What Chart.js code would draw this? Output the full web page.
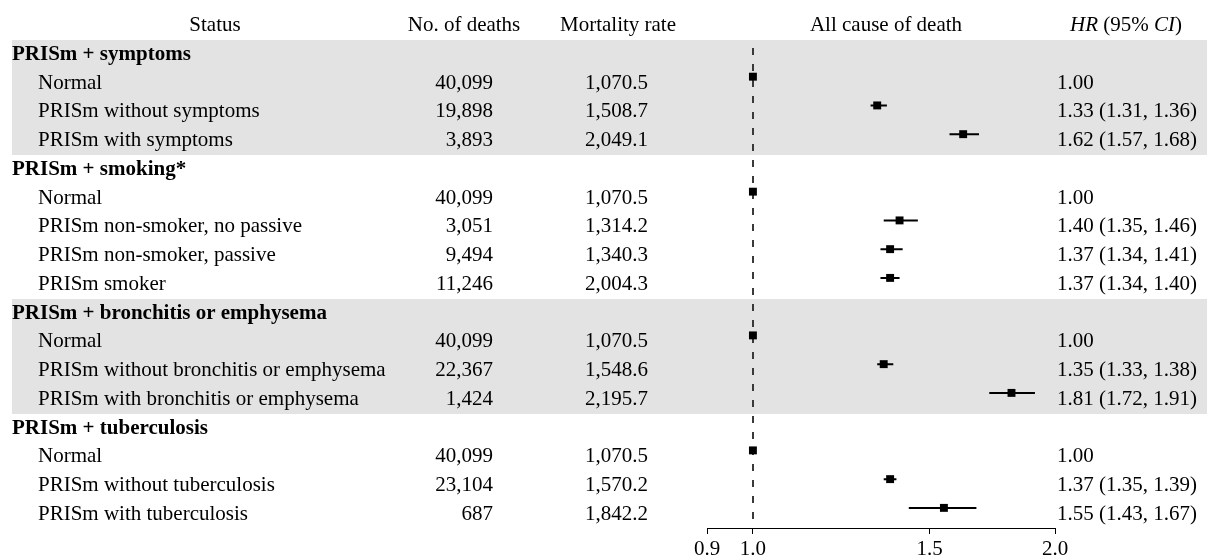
<!DOCTYPE html>
<html>
<head>
<meta charset="utf-8">
<script src="https://cdn.jsdelivr.net/npm/chart.js@4/dist/chart.umd.min.js"></script>
<style>
  html, body { margin: 0; padding: 0; background: #ffffff; }
  canvas { display: block; }
</style>
</head>
<body>
<canvas id="c" width="1207" height="558"></canvas>
<script>
// ---------------- DATA ----------------
const statusLabels = [
  'PRISm + symptoms', 'Normal', 'PRISm without symptoms', 'PRISm with symptoms',
  'PRISm + smoking*', 'Normal', 'PRISm non-smoker, no passive', 'PRISm non-smoker, passive', 'PRISm smoker',
  'PRISm + bronchitis or emphysema', 'Normal', 'PRISm without bronchitis or emphysema', 'PRISm with bronchitis or emphysema',
  'PRISm + tuberculosis', 'Normal', 'PRISm without tuberculosis', 'PRISm with tuberculosis'
];
const isGroupRow = [true,false,false,false, true,false,false,false,false, true,false,false,false, true,false,false,false];
const deaths = [null,40099,19898,3893, null,40099,3051,9494,11246, null,40099,22367,1424, null,40099,23104,687];
const mortalityRates = [null,1070.5,1508.7,2049.1, null,1070.5,1314.2,1340.3,2004.3, null,1070.5,1548.6,2195.7, null,1070.5,1570.2,1842.2];
const hazardRatios = [null,1.00,1.33,1.62, null,1.00,1.40,1.37,1.37, null,1.00,1.35,1.81, null,1.00,1.37,1.55];
const ciLow  = [null,null,1.31,1.57, null,null,1.35,1.34,1.34, null,null,1.33,1.72, null,null,1.35,1.43];
const ciHigh = [null,null,1.36,1.68, null,null,1.46,1.41,1.40, null,null,1.38,1.91, null,null,1.39,1.67];
const axisTicks = [0.9, 1.0, 1.5, 2.0];
const referenceValue = 1.0;
const columnHeaders = ['Status', 'No. of deaths', 'Mortality rate', 'All cause of death'];

// ---------------- BUILD ----------------
const FONT = "'Liberation Serif', 'Times New Roman', serif";
const FS = 21;
const rowIdx = statusLabels.map((_, i) => i);
const markerData = [];
const ciData = [];
rowIdx.forEach(i => {
  if (hazardRatios[i] != null) markerData.push({ x: hazardRatios[i], y: i });
  if (ciLow[i] != null) {
    ciData.push({ x: ciLow[i], y: i });
    ciData.push({ x: ciHigh[i], y: i });
    ciData.push({ x: hazardRatios[i], y: null });
  }
});
// group ranges for shading
const groups = [];
rowIdx.forEach(i => {
  if (isGroupRow[i]) groups.push({ first: i, last: i });
  else groups[groups.length - 1].last = i;
});

const fmtInt = n => n.toLocaleString('en-US');
const fmtRate = n => n.toLocaleString('en-US', { minimumFractionDigits: 1, maximumFractionDigits: 1 });
const fmtHR = i => ciLow[i] == null ? hazardRatios[i].toFixed(2)
  : hazardRatios[i].toFixed(2) + ' (' + ciLow[i].toFixed(2) + ', ' + ciHigh[i].toFixed(2) + ')';

const TEXT_OFFSET = 6.5;   // text rows sit slightly below the marker rows

const tablePlugin = {
  id: 'table',
  beforeDraw(chart) {
    const ctx = chart.ctx, y = chart.scales.y;
    ctx.save();
    ctx.fillStyle = '#e3e3e3';
    groups.forEach((gr, k) => {
      if (k % 2 === 0) {
        const top = Math.round(y.getPixelForValue(gr.first - 0.5) + TEXT_OFFSET);
        const bot = Math.round(y.getPixelForValue(gr.last + 0.5) + TEXT_OFFSET);
        ctx.fillRect(12, top, 1207 - 12, bot - top);
      }
    });
    ctx.restore();
  },
  beforeDatasetsDraw(chart) {
    const ctx = chart.ctx, x = chart.scales.x, y = chart.scales.y;
    const px = Math.round(x.getPixelForValue(referenceValue));
    ctx.save();
    ctx.strokeStyle = '#3a3a3a';
    ctx.lineWidth = 2;
    ctx.setLineDash([7, 9]);
    ctx.beginPath();
    ctx.moveTo(px, y.getPixelForValue(0));
    ctx.lineTo(px, chart.chartArea.bottom);
    ctx.stroke();
    ctx.restore();
  },
  afterDraw(chart) {
    const ctx = chart.ctx, y = chart.scales.y;
    ctx.save();
    ctx.fillStyle = '#000';
    ctx.textBaseline = 'middle';
    const headerY = 25;
    ctx.font = FS + 'px ' + FONT;
    ctx.textAlign = 'center';
    ctx.fillText(columnHeaders[0], 215, headerY);
    ctx.fillText(columnHeaders[1], 464, headerY);
    ctx.fillText(columnHeaders[2], 618, headerY);
    ctx.fillText(columnHeaders[3], 886, headerY);
    // HR (95% CI) with italics
    const parts = [['HR', true], [' (95% ', false], ['CI', true], [')', false]];
    let total = 0;
    parts.forEach(p => { ctx.font = (p[1] ? 'italic ' : '') + FS + 'px ' + FONT; total += ctx.measureText(p[0]).width; });
    let cx = 1126 - total / 2;
    ctx.textAlign = 'left';
    parts.forEach(p => {
      ctx.font = (p[1] ? 'italic ' : '') + FS + 'px ' + FONT;
      ctx.fillText(p[0], cx, headerY);
      cx += ctx.measureText(p[0]).width;
    });

    rowIdx.forEach(i => {
      const ty = y.getPixelForValue(i) + TEXT_OFFSET;
      if (isGroupRow[i]) {
        ctx.font = 'bold ' + FS + 'px ' + FONT;
        ctx.textAlign = 'left';
        ctx.fillText(statusLabels[i], 12, ty);
        return;
      }
      ctx.font = FS + 'px ' + FONT;
      ctx.textAlign = 'left';
      ctx.fillText(statusLabels[i], 38, ty);
      ctx.textAlign = 'right';
      ctx.fillText(fmtInt(deaths[i]), 493, ty);
      ctx.fillText(fmtRate(mortalityRates[i]), 648, ty);
      ctx.textAlign = 'left';
      ctx.fillText(fmtHR(i), 1057, ty);
    });
    ctx.restore();
  }
};

new Chart(document.getElementById('c'), {
  type: 'scatter',
  data: {
    datasets: [
      {
        type: 'line',
        data: ciData,
        borderColor: '#000',
        borderWidth: 2,
        pointRadius: 0,
        spanGaps: false,
        fill: false,
        order: 2
      },
      {
        type: 'scatter',
        data: markerData,
        pointStyle: 'rect',
        pointRadius: 5.6,
        pointBackgroundColor: '#000',
        pointBorderWidth: 0,
        order: 1
      }
    ]
  },
  options: {
    responsive: false,
    animation: false,
    devicePixelRatio: 1,
    layout: { padding: { left: 707, right: 152, top: 12, bottom: 0 } },
    plugins: { legend: { display: false }, tooltip: { enabled: false } },
    scales: {
      x: {
        type: 'logarithmic',
        position: 'bottom',
        min: 0.9,
        max: 2.0,
        bounds: 'data',
        afterDataLimits: s => { s.min = 0.9; s.max = 2.0; },
        afterBuildTicks: s => { s.ticks = axisTicks.map(v => ({ value: v })); },
        afterFit: s => { s.height = 30; },
        grid: { display: true, drawOnChartArea: false, drawTicks: true, tickLength: 6, color: '#000', lineWidth: 1 },
        border: { display: true, color: '#000', width: 1 },
        ticks: {
          autoSkip: false,
          maxRotation: 0,
          padding: 3,
          color: '#000',
          font: { family: FONT, size: FS },
          callback: v => Number(v).toFixed(1)
        }
      },
      y: {
        type: 'linear',
        display: false,
        reverse: true,
        min: -1.25,
        max: 16.7
      }
    }
  },
  plugins: [tablePlugin]
});
</script>
</body>
</html>
